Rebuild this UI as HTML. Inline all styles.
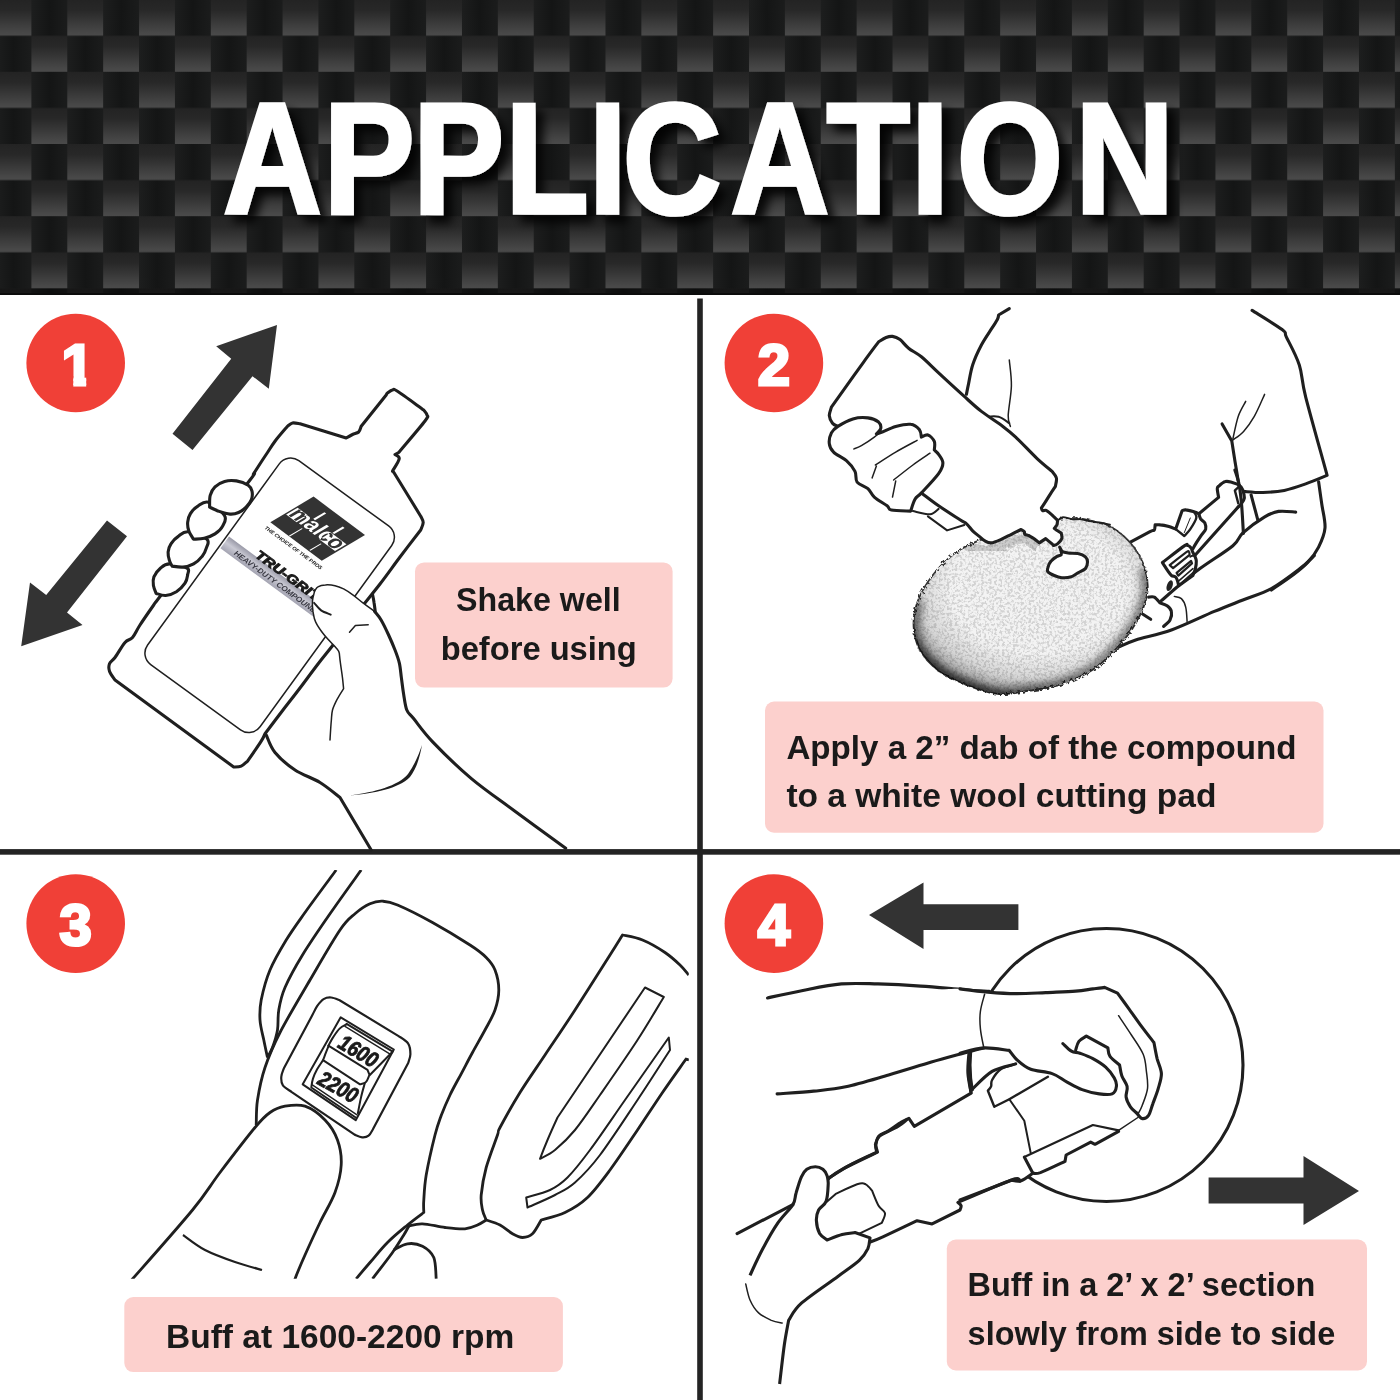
<!DOCTYPE html>
<html lang="en"><head><meta charset="utf-8"><title>Application</title>
<style>
html,body{margin:0;padding:0;background:#fff;}
svg{display:block;will-change:transform;}
text{font-family:"Liberation Sans",sans-serif;font-weight:bold;}
.ln{fill:none;stroke:#1f1f1f;stroke-width:3.1;stroke-linecap:round;stroke-linejoin:round;}
.lf{fill:#fff;stroke:#1f1f1f;stroke-width:3.1;stroke-linecap:round;stroke-linejoin:round;}
.th{fill:none;stroke:#1f1f1f;stroke-width:1.5;stroke-linecap:round;stroke-linejoin:round;}
.cap{fill:#1a1a1a;}
</style></head><body>
<svg width="1400" height="1400" viewBox="0 0 1400 1400">
<defs>
<linearGradient id="lg" x1="0" y1="0" x2="0" y2="1"><stop offset="0" stop-color="#232323"/><stop offset="0.3" stop-color="#282828"/><stop offset="0.9" stop-color="#474747"/><stop offset="1" stop-color="#4a4a4a"/></linearGradient>
<linearGradient id="dg" x1="0" y1="0" x2="1" y2="0"><stop offset="0" stop-color="#1d1e1e"/><stop offset="0.5" stop-color="#141515"/><stop offset="1" stop-color="#1b1c1c"/></linearGradient>
<pattern id="cf" x="31.4" y="-0.4" width="71.76" height="72.2" patternUnits="userSpaceOnUse">
<rect x="0" y="0" width="71.76" height="72.2" fill="#161717"/>
<rect x="0" y="0" width="35.88" height="36.1" fill="url(#dg)"/>
<rect x="35.88" y="36.1" width="35.88" height="36.1" fill="url(#dg)"/>
<rect x="35.88" y="0" width="35.88" height="36.1" fill="url(#lg)"/>
<rect x="0" y="36.1" width="35.88" height="36.1" fill="url(#lg)"/>
</pattern>
<filter id="ts" x="-5%" y="-20%" width="110%" height="150%"><feGaussianBlur in="SourceAlpha" stdDeviation="5.5 5"/><feOffset dx="9" dy="8"/><feComponentTransfer><feFuncA type="linear" slope="0.85"/></feComponentTransfer><feMerge><feMergeNode/><feMergeNode in="SourceGraphic"/></feMerge></filter>
</defs>
<rect width="1400" height="1400" fill="#fff"/>
<rect x="0" y="0" width="1400" height="295" fill="url(#cf)"/>
<rect x="0" y="288.4" width="1400" height="6.6" fill="#000" opacity="0.35"/>
<rect x="0" y="293" width="1400" height="2" fill="#0c0c0c"/>
<g transform="translate(221,213) scale(0.87,1)">
<text x="2.3 117.9 220.8 326.8 422.6 461.9 585.7 696.0 793.1 845.7 981.9" y="0" font-size="157" fill="#fff" stroke="#fff" stroke-width="3.6" stroke-linejoin="miter" filter="url(#ts)">APPLICATION</text>
</g>
<rect x="697.2" y="298.5" width="5.6" height="1102" fill="#232323"/>
<rect x="0" y="849.1" width="1400" height="5.6" fill="#232323"/>
<rect x="415.0" y="562.4" width="257.6" height="125.2" rx="9" fill="#fcd0cd"/>
<rect x="765.0" y="701.6" width="558.5" height="131.1" rx="9" fill="#fcd0cd"/>
<rect x="124.3" y="1297.1" width="438.6" height="75.0" rx="9" fill="#fcd0cd"/>
<rect x="946.8" y="1239.5" width="420.2" height="130.9" rx="9" fill="#fcd0cd"/>
<text class="cap" x="456.0" y="610.6" font-size="33.5" textLength="164.7" lengthAdjust="spacingAndGlyphs">Shake well</text>
<text class="cap" x="440.7" y="659.7" font-size="33.5" textLength="196.1" lengthAdjust="spacingAndGlyphs">before using</text>
<text class="cap" x="786.4" y="758.6" font-size="33.5" textLength="510.1" lengthAdjust="spacingAndGlyphs">Apply a 2” dab of the compound</text>
<text class="cap" x="786.4" y="807.0" font-size="33.5" textLength="430.0" lengthAdjust="spacingAndGlyphs">to a white wool cutting pad</text>
<text class="cap" x="166.0" y="1347.9" font-size="33.5" textLength="348.3" lengthAdjust="spacingAndGlyphs">Buff at 1600-2200 rpm</text>
<text class="cap" x="967.6" y="1295.5" font-size="33.5" textLength="347.8" lengthAdjust="spacingAndGlyphs">Buff in a 2’ x 2’ section</text>
<text class="cap" x="967.6" y="1344.9" font-size="33.5" textLength="367.6" lengthAdjust="spacingAndGlyphs">slowly from side to side</text>
<circle cx="75.7" cy="363.0" r="49.3" fill="#f04037"/>
<clipPath id="c1"><polygon points="50,335 100,335 100,376.2 86.2,376.2 86.2,392 73.3,392 73.3,376.2 50,376.2"/></clipPath>
<text x="77.7" y="384.5" font-size="58" text-anchor="middle" fill="#fff" stroke="#fff" stroke-width="3" stroke-linejoin="miter" clip-path="url(#c1)">1</text>
<circle cx="773.9" cy="363.0" r="49.3" fill="#f04037"/>
<text x="773.9" y="384.5" font-size="58" text-anchor="middle" fill="#fff" stroke="#fff" stroke-width="3" stroke-linejoin="miter">2</text>
<circle cx="75.7" cy="923.6" r="49.3" fill="#f04037"/>
<text x="75.7" y="945.1" font-size="58" text-anchor="middle" fill="#fff" stroke="#fff" stroke-width="3" stroke-linejoin="miter">3</text>
<circle cx="773.9" cy="923.6" r="49.3" fill="#f04037"/>
<text x="773.9" y="945.1" font-size="58" text-anchor="middle" fill="#fff" stroke="#fff" stroke-width="3" stroke-linejoin="miter">4</text>
<polygon fill="#333" points="277,325 216.2,346.2 231.2,358.8 172.5,433.8 192.5,450 252.5,376.2 268.8,388.8"/>
<polygon fill="#333" points="21.2,646.2 82.5,625 67,612.5 127,536.2 107,520.5 46.2,595 30,582.5"/>
<path class="lf" d="M423.7 410C424.2 410.8 426.8 413.2 427 415C427.2 416.8 429.7 414.8 425 421C420.3 427.2 403.1 447.2 398.7 452.5L395 454.5C395.7 455.2 399.6 455.9 399.2 458.7C398.8 461.5 393.6 469.1 392.5 471.2C393.1 472 391.5 468.7 396.2 476.2C400.9 483.7 416.6 509.5 420.7 516.2C421.1 517.2 423.2 520.2 423.2 522.5C423.2 524.8 421.1 528.8 420.7 530C417.2 534.5 406.8 548 400 557C393.2 566 387.2 574.7 380 584C372.8 593.3 364.5 603.2 357 613C349.5 622.8 341.5 634 335 642.5C328.5 651 323.8 656.4 318 664C312.2 671.6 305.8 680.3 300 688C294.2 695.7 288.8 702.4 283 710C277.2 717.6 268 729.8 265 733.7C264.4 735 264.1 736.6 261.2 741.2C258.3 745.8 249.8 757.9 247.5 761.2C246.4 762 243.5 765.2 241.2 766.2C238.9 767.2 234.9 766.9 233.7 767L115 680C114.1 678.5 110.4 673.9 109.5 671.2C108.6 668.5 108.6 666 109.5 663.7C110.4 661.4 112.4 661 115 657.5C117.6 654 122.1 645.8 125 642.5C127.9 639.2 130 640.4 132.5 637.5C135 634.6 136.5 630.4 140 625C143.5 619.6 150.2 610 153.7 605C157.2 600 153.5 605 161.2 595C168.9 585 185.2 564.2 200 545C214.8 525.8 241.1 491.9 250 480C258.9 468.1 251.6 477 253.7 473.7C255.8 470.4 260.2 463.5 262.5 460C264.8 456.5 265.4 455.6 267.5 452.5C269.6 449.4 271.7 445.6 275 441.2C278.3 436.8 285.4 428.7 287.5 426.2C288.3 425.7 290.4 423.4 292.5 423C294.6 422.6 298.8 423.6 300 423.7L346.2 438C347.2 437.4 350.4 435.5 352.5 434.5C354.6 433.5 357.2 433.4 358.7 432C360.1 430.6 360.8 427.2 361.2 426.2L386.2 395C386.4 394.7 386.4 393.8 387.5 393C388.6 392.2 390.8 390.3 392.5 390C394.2 389.7 392.3 388 397.5 391.3C402.7 394.6 419.3 406.9 423.7 410Z"/>
<rect class="th" style="fill:none" x="0" y="0" width="139" height="252" rx="14" transform="translate(287.5,452.5) rotate(36)"/>
<g transform="matrix(0.8006,0.5997,-0.860,0.5104,313.6,496.6)">
<rect x="0" y="0" width="64.2" height="50.3" fill="#333"/>
<rect x="1.5" y="20" width="13" height="13.3" fill="#fff"/><rect x="43" y="20" width="19.5" height="13.3" fill="#fff"/>
<defs><linearGradient id="mg" gradientUnits="userSpaceOnUse" x1="0" y1="0" x2="64.2" y2="0"><stop offset="0.226" stop-color="#333"/><stop offset="0.226" stop-color="#fff"/><stop offset="0.67" stop-color="#fff"/><stop offset="0.67" stop-color="#333"/></linearGradient></defs><text x="2.5" y="32.6" font-size="23" fill="url(#mg)" textLength="59" lengthAdjust="spacingAndGlyphs">malco</text>
<rect x="20.5" y="6.5" width="2.2" height="13" fill="#fff"/><rect x="44" y="7" width="2.2" height="12" fill="#fff"/>
<rect x="22.8" y="35" width="1.2" height="15" fill="#fff"/><rect x="47.4" y="36" width="1.2" height="13" fill="#fff"/>
</g>
<defs><linearGradient id="gb" x1="0" y1="0" x2="0" y2="1"><stop offset="0" stop-color="#9a9aa8"/><stop offset="0.45" stop-color="#c9c9d3"/><stop offset="1" stop-color="#a4a4b2"/></linearGradient></defs>
<g transform="translate(229,536.6) rotate(36.3)">
<rect x="0" y="0" width="118" height="14.5" fill="url(#gb)"/>
<text x="14" y="11.6" font-size="7.6" font-style="italic" fill="#3a3a44" textLength="100" lengthAdjust="spacingAndGlyphs">HEAVY-DUTY COMPOUND</text>
</g>
<g transform="translate(254.5,556.5) rotate(36.3)">
<text x="0" y="0" font-size="12.6" font-style="italic" fill="#1a1a1a" stroke="#1a1a1a" stroke-width="0.9" textLength="76" lengthAdjust="spacingAndGlyphs">TRU-GRIT</text>
</g>
<g transform="translate(264.2,528.6) rotate(36.2)">
<text x="0" y="0" font-size="5.2" font-style="italic" fill="#222" textLength="70" lengthAdjust="spacingAndGlyphs">THE CHOICE OF THE PROS</text>
</g>
<path class="lf" d="M156.1 593.4C157.7 593.8 162.3 595.8 165.7 595.5C169.1 595.3 173.2 593.8 176.4 591.8C179.6 589.7 183.1 586.1 185 583.2C186.9 580.4 187.3 577.1 187.7 574.6C188 572.1 190.2 570 187.1 568.2C184.1 566.4 173.9 563.9 169.5 563.9C165 563.9 162.9 566.1 160.4 568.2C157.8 570.4 155.1 573.9 153.9 576.8C152.8 579.6 153 582.6 153.4 585.4C153.8 588.1 155.6 592.1 156.1 593.4Z"/>
<path class="lf" d="M172.1 566.1C173.9 566.3 179.3 567.5 182.9 567.1C186.4 566.8 190.4 565.7 193.6 563.9C196.8 562.1 200 559.1 202.1 556.4C204.3 553.8 205.6 550.7 206.4 547.9C207.2 545 210 542 207 539.3C203.9 536.6 192.9 532.3 188.2 531.8C183.5 531.3 181.4 534.1 178.6 536.1C175.7 538 172.8 540.9 171.1 543.6C169.3 546.3 168.3 549.3 168.1 552.1C167.8 555 168.8 558.4 169.5 560.7C170.1 563 171.7 565.2 172.1 566.1Z"/>
<path class="lf" d="M193.6 539.3C195.4 539.1 200.7 539.1 204.3 538.2C207.9 537.3 212 535.9 215 533.9C218 532 220.9 529.5 222.5 526.4C224.1 523.4 227 519.7 224.6 515.7C222.3 511.7 213 503.9 208.6 502.3C204.1 500.7 200.9 504.2 197.9 506.1C194.8 507.9 192.1 510.9 190.4 513.6C188.7 516.3 187.9 519.3 187.7 522.1C187.4 525 187.8 527.9 188.8 530.7C189.7 533.6 192.8 537.9 193.6 539.3Z"/>
<path class="lf" d="M209.6 507.1C209.7 505.2 209.3 498.8 210.2 495.4C211.1 492 212.6 489.1 215 486.8C217.4 484.5 221.1 482.4 224.6 481.4C228.2 480.4 232.5 480.3 236.4 480.9C240.4 481.5 245.6 483.5 248.2 485.2C250.8 486.9 251.4 488.7 252 491.1C252.5 493.5 252.4 497 251.4 499.6C250.4 502.3 248.2 505 246.1 507.1C243.9 509.3 241.3 511.3 238.6 512.5C235.9 513.7 233.2 514.3 230 514.1C226.8 513.9 222.7 512.6 219.3 511.4C215.9 510.3 211.3 507.9 209.6 507.1Z"/>
<path fill="#fff" stroke="none" d="M314.6 591.1C315.5 588.8 316.1 587.8 317.9 586.8C319.6 585.8 322.5 585 325.4 584.9C328.2 584.7 332 585 335 585.7C338 586.4 340.7 587.5 343.6 588.9C346.4 590.4 348.9 592 352.1 594.3C355.4 596.6 359.1 600 362.9 602.9C366.6 605.7 371.6 608.6 374.6 611.4C377.7 614.3 378.8 616.1 381.1 620C383.4 623.9 386.3 630 388.6 635C390.9 640 393.2 645.4 395 650C396.8 654.6 398.2 658.2 399.3 662.9C400.4 667.5 400.7 672.7 401.4 677.9C402.1 683 402.7 688.6 403.6 693.9C404.5 699.3 418.9 707.3 406.8 710C394.6 712.7 342.3 711.8 330.7 710C319.1 708.2 335 702.9 337.1 699.3C339.3 695.7 342.7 692.1 343.6 688.6C344.5 685 343 682.1 342.5 677.9C342 673.6 340.9 667 340.4 662.9C339.8 658.8 339.8 655.5 339.3 653.2C338.8 650.9 339.6 652 337.1 648.9C334.6 645.9 327.9 639.5 324.3 635C320.7 630.5 317.6 626.1 315.7 622.1C313.8 618.2 313.6 615 313 611.4C312.5 607.9 312.2 604.1 312.5 600.7C312.8 597.3 313.8 593.4 314.6 591.1Z"/>
<path class="th" d="M314.6 591.1C315.2 590.4 316.1 587.8 317.9 586.8C319.6 585.8 322.5 585 325.4 584.9C328.2 584.7 332 585 335 585.7C338 586.4 340.7 587.5 343.6 588.9C346.4 590.4 348.9 592 352.1 594.3C355.4 596.6 359.1 600 362.9 602.9C366.6 605.7 372.7 610 374.6 611.4"/>
<path class="th" d="M314.6 591.1C314.3 592.7 312.8 597.3 312.5 600.7C312.2 604.1 312.5 607.9 313 611.4C313.6 615 313.8 618.2 315.7 622.1C317.6 626.1 320.7 630.5 324.3 635C327.9 639.5 334.6 645.9 337.1 648.9C339.6 652 338.9 652.5 339.3 653.2C339.5 654.8 339.8 658.8 340.4 662.9C340.9 667 342 673.6 342.5 677.9C343 682.1 343.4 686.8 343.6 688.6C342.5 690.4 339 695.7 337.1 699.3C335.3 702.9 333.5 706.4 332.5 710C331.6 713.6 331.7 715.7 331.3 720.7C330.8 725.7 330.2 736.8 330 740"/>
<path class="ln" style="stroke-width:2" d="M314.1 602.9C315.3 604.1 318.3 608.4 321.1 610.4C323.8 612.3 329.1 613.9 330.7 614.6"/>
<path class="th" d="M349.5 632.3L355.4 625.4L368.2 624.8"/>
<path class="ln" d="M372.5 594.3C372.8 595.7 373.7 600 374.1 602.9C374.6 605.7 375 610 375.2 611.4"/>
<path class="ln" d="M374.6 611.4C375.7 612.9 378.8 616.1 381.1 620C383.4 623.9 386.3 630 388.6 635C390.9 640 393.2 645.4 395 650C396.8 654.6 398.2 658.2 399.3 662.9C400.4 667.5 400.7 672.7 401.4 677.9C402.1 683 402.7 688.6 403.6 693.9C404.5 699.3 405.1 705.9 406.8 710C408.5 714.1 409.2 713.2 413.6 718.6C418 724 423.3 732.1 432.9 742.1C442.5 752.1 457.8 767.2 471.4 778.6C485 790 498.6 799.1 514.3 810.7C530 822.3 557.1 842 565.7 848.2"/>
<path class="ln" d="M266.2 735C267.7 737.9 270.2 746.7 275 752.5C279.8 758.3 287.5 765 295 770C302.5 775 312.5 777.9 320 782.5C327.5 787.1 336.7 795 340 797.5L371.2 850"/>
<path fill="#1f1f1f" stroke="none" d="M350 795.5 C375 792 398 786 408 774 C415 764 419 754 422 745 C420 756 417 768 410 777 C398 789 375 793 350 795.5Z"/>
<path class="ln"  d="M1009.3 308.6L998.6 315C998.4 315.7 998.6 317.1 997.5 319.3C996.4 321.4 994.8 323.6 992.1 327.9C989.5 332.1 984.6 338.9 981.4 345C978.2 351.1 975 357.9 972.9 364.3C970.7 370.7 969.6 378.6 968.6 383.6C967.5 388.6 966.8 392.5 966.4 394.3"/>
<path class="th"  d="M1009.3 360C1009.6 364.3 1011.6 376.4 1011.4 385.7C1011.2 395 1008.4 408.9 1008.2 415.7C1008 422.5 1010 424.6 1010.4 426.4"/>
<path class="ln" style="stroke-width:2" d="M985.7 416.8C987.9 416.8 994.6 415.7 998.6 416.8C1002.5 417.9 1007.5 422.1 1009.3 423.2"/>
<path class="ln"  d="M1252.1 310.4C1257.1 313.6 1276.4 325.2 1282.1 329.6C1287.9 334.1 1283.6 331.2 1286.4 337.1C1289.3 343 1296.1 355 1299.3 365C1302.5 375 1301.1 378.7 1305.7 397.1C1310.4 415.5 1323.6 462.3 1327.1 475.4C1323.6 476.8 1312.9 481.4 1305.7 483.9C1298.6 486.4 1291.4 488.9 1284.3 490.4C1277.1 491.8 1269.6 492.3 1262.9 492.5C1256.1 492.7 1246.8 491.6 1243.6 491.4"/>
<path class="ln"  d="M1318.6 481.8C1319.1 485.5 1320.7 496.6 1321.8 504.3C1322.9 512 1325.5 520.7 1325 527.9C1324.5 535 1321.4 541.4 1318.6 547.1C1315.7 552.9 1312.1 557.5 1307.9 562.1C1303.6 566.8 1298.9 570.4 1292.9 575C1286.8 579.6 1275 587.5 1271.4 590"/>
<path class="ln"  d="M1222.1 423.9L1231.8 441.1C1232.3 444.5 1233.9 454.8 1235 461.4C1236.1 468 1237.7 477.5 1238.2 480.7"/>
<path class="th"  d="M1245.7 401.4C1244.5 403.9 1240.4 410.2 1238.2 416.4C1236.1 422.7 1233.7 435.2 1232.9 438.9"/>
<path class="th"  d="M1264.6 394.4C1262.9 398 1257.8 410.2 1254.3 416.4C1250.8 422.6 1247.1 427.5 1243.6 431.4C1240 435.4 1234.6 438.6 1232.9 440"/>
<path class="ln"  d="M1118.6 647.1C1121.4 646 1126.9 642.9 1135.7 640C1144.5 637.1 1158.3 634.8 1171.4 630C1184.5 625.2 1202.4 616.4 1214.3 611.4C1226.2 606.4 1233.3 603.8 1242.9 600C1252.4 596.2 1261.9 593.8 1271.4 588.6C1281 583.3 1292.9 574 1300 568.6C1307.1 563.1 1311.9 557.9 1314.3 555.7"/>
<path class="ln"  d="M1295.7 512.1C1292.9 512 1283.8 510.6 1278.6 511.4C1273.3 512.3 1270.2 513.6 1264.3 517.1C1258.3 520.7 1248.1 528.1 1242.9 532.9C1237.6 537.6 1240 539.8 1232.9 545.7C1225.7 551.7 1209 561.9 1200 568.6C1191 575.2 1185 580.4 1178.6 585.7C1172.1 591.1 1164.3 598.2 1161.4 600.7"/>
<path class="ln"  d="M1100.3 559.1C1104.3 556.9 1116 550 1124.3 545.4C1132.6 540.9 1145 534.3 1150 531.7C1155 529.1 1153.4 531.1 1154.3 530C1155.1 528.9 1155 525.7 1155.1 524.9C1156 524.9 1158 524.6 1160.3 524.9C1162.6 525.1 1166.3 525.9 1168.9 526.6C1171.4 527.3 1174.6 528.7 1175.7 529.1L1182.1 510.7C1182.8 510.6 1183.9 509.6 1186 509.9C1188.1 510.1 1192.4 511.4 1194.6 512C1196.7 512.6 1198.1 513.4 1198.9 513.7L1218.6 497.4C1218.4 496 1217.3 490.7 1217.3 488.9C1217.3 487 1217.2 487.5 1218.6 486.3C1219.9 485.1 1223.1 482.2 1225.4 481.6C1227.7 480.9 1230 481.9 1232.3 482.4C1234.6 483 1237.4 483.8 1239.1 485C1240.9 486.2 1241.7 487.5 1242.6 489.7C1243.4 491.9 1244.6 495.9 1244.3 498.3C1244 500.7 1241.9 502.9 1240.9 504.3C1239.9 505.7 1238.7 506.4 1238.3 506.9"/>
<path class="ln" style="stroke-width:2.4" d="M1239.1 485C1239 485.4 1239 486.2 1238.3 487.1C1237.6 488.1 1235.4 490 1234.9 490.6L1238.3 503.4"/>
<path class="ln"  d="M1238.3 506.9L1194.6 555.7"/>
<path class="ln" style="stroke-width:2.4" d="M1175.7 529.1L1184.3 536C1185.3 534.9 1188.3 532.1 1190.3 529.1C1192.3 526.1 1195.6 520.7 1196.3 518C1197 515.3 1194.9 513.7 1194.6 512.9"/>
<path class="th" style="stroke-width:1" d="M1190.3 518L1184.3 532.6"/>
<path class="ln"  d="M1198.9 513.7C1199.1 514.6 1199.6 517.3 1200.6 518.9C1201.6 520.4 1204 521.4 1204.9 523.1C1205.7 524.9 1206.3 527.1 1205.7 529.1C1205.1 531.1 1203 532.9 1201.4 535.1C1199.9 537.4 1197.7 540.6 1196.3 542.9C1194.9 545.1 1193.4 547.9 1192.9 548.9"/>
<path class="lf" d="M1162.4 562.6C1166.1 559.8 1180.1 548.7 1184.3 545.9C1188.5 543 1186.6 545.1 1187.7 545.4C1188.9 545.8 1190.4 547 1191.1 548C1191.9 549 1191.9 550.1 1192.4 551.4C1193 552.7 1193.9 554.1 1194.6 555.7C1195.2 557.3 1196.1 558.7 1196.3 560.9C1196.4 563 1196 566.1 1195.4 568.6C1194.9 571 1193.3 574.3 1192.9 575.4L1178.7 585.7C1178.5 584.9 1177.9 582 1177.4 580.6C1176.9 579.1 1176.7 578 1175.7 577.1C1174.7 576.3 1172.7 576.4 1171.4 575.4C1170.1 574.4 1169.5 573.3 1168 571.1C1166.5 569 1163.4 564 1162.4 562.6Z"/>
<path class="ln" style="stroke-width:2.2" d="M1169.7 565.1C1172.4 563 1182.8 554.5 1186 552.3C1189.2 550.1 1188.4 551.4 1189 551.9C1189.6 552.3 1189.5 554.4 1189.6 554.9L1173.1 568.1L1169.7 565.1"/>
<path class="ln" style="stroke-width:2.2" d="M1176.6 572.9L1191.1 560.9L1192 563.4L1178.3 575.6L1176.6 572.9"/>
<path class="th"  d="M1179.1 580.6L1192.9 568.6"/>
<path class="th"  d="M1180 584L1193.3 572.4"/>
<path class="ln" style="stroke-width:2" d="M1190.3 556.6C1190.6 556.4 1191.7 555.9 1192.4 555.7C1193.1 555.6 1194.2 555.7 1194.6 555.7"/>
<ellipse cx="1169.7" cy="585.7" rx="2.8" ry="5.6" fill="#222" transform="rotate(20 1169.7 585.7)"/>
<path class="ln"  d="M1234.9 470C1235.6 472.4 1238 478.6 1239.1 484.6C1240.3 490.6 1241 497.9 1241.7 506C1242.4 514.1 1243.1 528.9 1243.4 533.4"/>
<path class="ln"  d="M1251.1 494.9L1258 520.6"/>
<path class="ln"  d="M1148.6 597.1C1149.5 597.1 1152.4 596.2 1154.3 597.1C1156.2 598.1 1159 601.9 1160 602.9C1161.2 603.3 1165.2 604.3 1167.1 605.7C1169 607.1 1171 609 1171.4 611.4C1171.9 613.8 1171.3 617.5 1170 620C1168.7 622.5 1164.6 625.4 1163.6 626.4"/>
<path class="th"  d="M1174.3 596.4C1175.5 596.8 1179.5 596.8 1181.4 598.6C1183.3 600.4 1184.8 603.3 1185.7 607.1C1186.7 611 1186.9 619 1187.1 621.4"/>
<path class="ln"  d="M1142.9 614.3L1150.7 619.3"/>
<defs>
<filter id="wool" x="-5%" y="-5%" width="110%" height="110%"><feTurbulence type="fractalNoise" baseFrequency="0.38" numOctaves="3" seed="7" result="n"/><feColorMatrix in="n" type="matrix" values="0 0 0 0 0.3  0 0 0 0 0.3  0 0 0 0 0.3  0 -5 0 0 2.75" result="sp"/><feComposite in="sp" in2="SourceGraphic" operator="in"/></filter>
<filter id="fuzz" x="-5%" y="-5%" width="110%" height="110%"><feTurbulence type="fractalNoise" baseFrequency="0.3" numOctaves="2" seed="3" result="n"/><feDisplacementMap in="SourceGraphic" in2="n" scale="5"/></filter>
<radialGradient id="padg" cx="0.53" cy="0.40" r="0.62"><stop offset="0.6" stop-color="#000" stop-opacity="0"/><stop offset="0.82" stop-color="#000" stop-opacity="0.12"/><stop offset="0.93" stop-color="#000" stop-opacity="0.3"/><stop offset="1" stop-color="#000" stop-opacity="0.6"/></radialGradient>
<clipPath id="padc"><path d="M975.7 541.8C966.8 545.4 961.4 548 954.3 553.6C947.1 559.1 938.9 567.1 932.9 575C926.8 582.9 921.1 592.1 917.9 600.7C914.6 609.3 913.2 618.2 913.6 626.4C913.9 634.6 915.7 642.5 920 650C924.3 657.5 931.8 665.7 939.3 671.4C946.8 677.1 955.4 680.5 965 684.3C974.6 688 986.4 692.9 997.1 693.9C1007.9 695 1018.6 692.3 1029.3 690.7C1040 689.1 1050.7 687.9 1061.4 684.3C1072.1 680.7 1084.3 675.4 1093.6 669.3C1102.9 663.2 1110 655.7 1117.1 647.9C1124.3 640 1131.4 631.1 1136.4 622.1C1141.4 613.2 1145.7 603.2 1147.1 594.3C1148.6 585.4 1147.5 576.8 1145 568.6C1142.5 560.4 1137.5 551.8 1132.1 545C1126.8 538.2 1119.3 531.8 1112.9 527.9C1106.4 523.9 1099.6 523 1093.6 521.4C1087.5 519.8 1082.1 518.6 1076.4 518.2C1070.7 517.8 1065.4 517.6 1059.3 518.9C1053.2 520.1 1048.6 523.5 1040 525.7C1031.4 527.9 1018.6 529.5 1007.9 532.1C997.1 534.8 984.6 538.2 975.7 541.8Z"/></clipPath>
</defs>
<path d="M975.7 541.8C966.8 545.4 961.4 548 954.3 553.6C947.1 559.1 938.9 567.1 932.9 575C926.8 582.9 921.1 592.1 917.9 600.7C914.6 609.3 913.2 618.2 913.6 626.4C913.9 634.6 915.7 642.5 920 650C924.3 657.5 931.8 665.7 939.3 671.4C946.8 677.1 955.4 680.5 965 684.3C974.6 688 986.4 692.9 997.1 693.9C1007.9 695 1018.6 692.3 1029.3 690.7C1040 689.1 1050.7 687.9 1061.4 684.3C1072.1 680.7 1084.3 675.4 1093.6 669.3C1102.9 663.2 1110 655.7 1117.1 647.9C1124.3 640 1131.4 631.1 1136.4 622.1C1141.4 613.2 1145.7 603.2 1147.1 594.3C1148.6 585.4 1147.5 576.8 1145 568.6C1142.5 560.4 1137.5 551.8 1132.1 545C1126.8 538.2 1119.3 531.8 1112.9 527.9C1106.4 523.9 1099.6 523 1093.6 521.4C1087.5 519.8 1082.1 518.6 1076.4 518.2C1070.7 517.8 1065.4 517.6 1059.3 518.9C1053.2 520.1 1048.6 523.5 1040 525.7C1031.4 527.9 1018.6 529.5 1007.9 532.1C997.1 534.8 984.6 538.2 975.7 541.8Z" fill="#f3f3f3" stroke="#333" stroke-width="1.8" filter="url(#fuzz)"/>
<path d="M975.7 541.8C966.8 545.4 961.4 548 954.3 553.6C947.1 559.1 938.9 567.1 932.9 575C926.8 582.9 921.1 592.1 917.9 600.7C914.6 609.3 913.2 618.2 913.6 626.4C913.9 634.6 915.7 642.5 920 650C924.3 657.5 931.8 665.7 939.3 671.4C946.8 677.1 955.4 680.5 965 684.3C974.6 688 986.4 692.9 997.1 693.9C1007.9 695 1018.6 692.3 1029.3 690.7C1040 689.1 1050.7 687.9 1061.4 684.3C1072.1 680.7 1084.3 675.4 1093.6 669.3C1102.9 663.2 1110 655.7 1117.1 647.9C1124.3 640 1131.4 631.1 1136.4 622.1C1141.4 613.2 1145.7 603.2 1147.1 594.3C1148.6 585.4 1147.5 576.8 1145 568.6C1142.5 560.4 1137.5 551.8 1132.1 545C1126.8 538.2 1119.3 531.8 1112.9 527.9C1106.4 523.9 1099.6 523 1093.6 521.4C1087.5 519.8 1082.1 518.6 1076.4 518.2C1070.7 517.8 1065.4 517.6 1059.3 518.9C1053.2 520.1 1048.6 523.5 1040 525.7C1031.4 527.9 1018.6 529.5 1007.9 532.1C997.1 534.8 984.6 538.2 975.7 541.8Z" fill="#000" filter="url(#wool)" opacity="0.34"/>
<path d="M975.7 541.8C966.8 545.4 961.4 548 954.3 553.6C947.1 559.1 938.9 567.1 932.9 575C926.8 582.9 921.1 592.1 917.9 600.7C914.6 609.3 913.2 618.2 913.6 626.4C913.9 634.6 915.7 642.5 920 650C924.3 657.5 931.8 665.7 939.3 671.4C946.8 677.1 955.4 680.5 965 684.3C974.6 688 986.4 692.9 997.1 693.9C1007.9 695 1018.6 692.3 1029.3 690.7C1040 689.1 1050.7 687.9 1061.4 684.3C1072.1 680.7 1084.3 675.4 1093.6 669.3C1102.9 663.2 1110 655.7 1117.1 647.9C1124.3 640 1131.4 631.1 1136.4 622.1C1141.4 613.2 1145.7 603.2 1147.1 594.3C1148.6 585.4 1147.5 576.8 1145 568.6C1142.5 560.4 1137.5 551.8 1132.1 545C1126.8 538.2 1119.3 531.8 1112.9 527.9C1106.4 523.9 1099.6 523 1093.6 521.4C1087.5 519.8 1082.1 518.6 1076.4 518.2C1070.7 517.8 1065.4 517.6 1059.3 518.9C1053.2 520.1 1048.6 523.5 1040 525.7C1031.4 527.9 1018.6 529.5 1007.9 532.1C997.1 534.8 984.6 538.2 975.7 541.8Z" fill="url(#padg)" filter="url(#fuzz)"/>
<filter id="bl4" x="-10%%" y="-10%%" width="120%%" height="120%%"><feGaussianBlur stdDeviation="3.5"/></filter>
<g clip-path="url(#padc)"><path d="M917.9 600.7C917.1 605 913.2 618.2 913.6 626.4C913.9 634.6 915.7 642.5 920 650C924.3 657.5 931.8 665.7 939.3 671.4C946.8 677.1 955.4 680.5 965 684.3C974.6 688 986.4 692.9 997.1 693.9C1007.9 695 1018.6 692.3 1029.3 690.7C1040 689.1 1050.7 687.9 1061.4 684.3C1072.1 680.7 1084.3 675.4 1093.6 669.3C1102.9 663.2 1110 655.7 1117.1 647.9C1124.3 640 1131.4 631.1 1136.4 622.1C1141.4 613.2 1145.7 603.2 1147.1 594.3C1148.6 585.4 1145.4 572.9 1145 568.6" fill="none" stroke="#000" stroke-opacity="0.42" stroke-width="13" filter="url(#bl4)"/></g>
<g clip-path="url(#padc)"><path d="M960 536.4C961.1 537.9 963.2 542.8 966.4 545C969.6 547.2 975 549.1 979.3 549.8C983.6 550.5 987.3 550.4 992.1 549.3C997 548.1 1002.9 544.6 1008.2 542.9C1013.6 541.1 1019.5 537.9 1024.3 538.6C1029.1 539.3 1035 545.7 1037.1 547.1" fill="none" stroke="#000" stroke-opacity="0.16" stroke-width="10" filter="url(#fuzz)"/></g>
<path class="lf" d="M1061.8 551.4C1063 552.1 1065.5 552.7 1068.2 553C1070.9 553.4 1075 552.9 1077.9 553.6C1080.7 554.2 1083.8 555.4 1085.4 556.8C1087 558.2 1087.5 560.2 1087.5 562.1C1087.5 564.1 1087 566.8 1085.4 568.6C1083.8 570.4 1080.4 571.4 1077.9 572.9C1075.4 574.3 1073 576.3 1070.4 577.1C1067.7 577.9 1064.5 577.9 1061.8 577.7C1059.1 577.4 1056.6 576.5 1054.3 575.5C1052 574.6 1048.9 573.1 1047.9 571.8C1046.8 570.4 1047.3 569.3 1047.9 567.5C1048.4 565.7 1049.6 562.9 1051.1 561.1C1052.5 559.3 1054.7 557.9 1056.4 556.8C1058.1 555.7 1060.5 555.9 1061.3 554.6C1062 553.4 1060.6 549.8 1060.7 549.3C1060.8 548.8 1060.5 550.8 1061.8 551.4Z"/>
<path class="ln"  d="M1059.6 547.1L1061.8 551.4"/>
<path class="ln" style="stroke-width:1.8" d="M1058 520.4C1058.8 519.8 1060.4 517.3 1062.9 517.1C1065.3 517 1069.5 518.9 1072.5 519.3C1075.5 519.6 1078.4 519 1081.1 519.3C1083.8 519.6 1085.5 520.4 1088.6 520.9C1091.6 521.4 1095.7 521.9 1099.3 522.5C1102.9 523.1 1108.2 524.3 1110 524.6"/>
<path class="lf" d="M1052.1 471.4C1052.9 472.5 1055.9 475.4 1056.4 477.9C1057 480.4 1055.5 485 1055.4 486.4C1054.5 487.8 1051.8 491.8 1050 494.6C1048.2 497.4 1046.1 501 1044.6 503.2C1043.2 505.4 1042 507.2 1041.4 508C1041.6 508.5 1041.8 510.4 1042.5 510.7C1043.2 511.1 1044.7 510 1045.7 510.2C1046.7 510.4 1047.9 511.5 1048.4 511.8C1049.2 512.5 1051.7 514.6 1053.2 516.1C1054.7 517.5 1056.8 519.6 1057.5 520.4C1057.4 521.1 1057.5 523.3 1057 524.6C1056.4 526 1054.7 527.8 1054.3 528.4C1054.6 528.7 1055.3 529.2 1056.4 530C1057.6 530.8 1060.4 532.7 1061.3 533.2C1061.3 534.1 1062.4 536.8 1061.8 538.6C1061.2 540.4 1058.9 542.8 1057.5 543.9C1056.1 545.1 1053.9 545.3 1053.2 545.5C1053 545.3 1053.4 545.1 1052.1 543.9C1050.9 542.8 1046.8 539.5 1045.7 538.6L1039.3 542.9C1038.4 542.1 1035.7 539.8 1033.9 538.6C1032.1 537.3 1029.5 535.9 1028.6 535.4C1027.9 535.2 1025.5 534.9 1024.8 534.3C1024.1 533.7 1024.9 532.4 1024.3 531.6C1023.7 530.8 1021.6 529.8 1021.1 529.5C1019.5 530.3 1014.8 532.6 1011.4 534.3C1008 536 1004.1 538.2 1000.7 539.6C997.3 541.1 993.8 542.7 991.1 542.9C988.4 543 986.6 541.8 984.6 540.7C982.7 539.6 981.3 538 979.3 536.4C977.3 534.8 975 533.2 972.9 531.1C970.7 528.9 968.6 525.4 966.4 523.6C964.3 521.7 964.6 522.8 960 519.8C955.4 516.8 945 510.2 938.6 505.7C932.1 501.2 924.3 495 921.4 492.9L837.9 426.4C837 425.9 833.9 425 832.5 423.2C831.1 421.4 829.5 418.4 829.3 415.7C829.1 413 831.1 408.6 831.4 407.1C833.2 404.6 836.8 399.6 842.1 392.1C847.5 384.6 857.5 370.5 863.6 362.1C869.6 353.7 876.1 345.2 878.6 341.8C879.8 341.1 883.7 338.4 886.1 337.5C888.4 336.6 890.2 336.1 892.5 336.4C894.8 336.8 897.3 337.7 900 339.6C902.7 341.6 905 345.4 908.6 348.2C912.1 351.1 916.4 352.7 921.4 356.8C926.4 360.9 931.4 366.2 938.6 372.9C945.7 379.5 957.1 390 964.3 396.4C971.4 402.9 975 406.4 981.4 411.4C987.9 416.4 997.1 422.1 1002.9 426.4C1008.6 430.7 1010 431.8 1015.7 437.1C1021.4 442.5 1031.1 452.9 1037.1 458.6C1043.2 464.3 1049.6 469.3 1052.1 471.4Z"/>
<path class="ln" style="stroke-width:2" d="M912.9 511.1C915.7 511.6 925.7 514.6 930 514.3C934.3 513.9 937.1 509.8 938.6 508.9"/>
<path class="ln" style="stroke-width:2" d="M927.9 516.4L947.1 530.4L964.3 525"/>
<path class="lf" d="M876.4 433.9C877.5 433.6 879.6 433 882.9 431.8C886.1 430.5 891.1 427.7 895.7 426.4C900.4 425.2 906.8 423.7 910.7 424.3C914.6 424.8 917.5 427.5 919.3 429.6C921.1 431.8 921.1 435.9 921.4 437.1C922.5 436.8 925.7 434.3 927.9 435C930 435.7 933.2 438.9 934.3 441.4C935.4 443.9 934.3 448.6 934.3 450C935 450.7 937.1 452.1 938.6 454.3C940 456.4 942.9 459.6 942.9 462.9C942.9 466.1 942.1 468.6 938.6 473.6C935 478.6 925.4 488.6 921.4 492.9C917.5 497.1 916.8 496.2 915 499.3C913.2 502.3 911.4 509.1 910.7 511.1C907.5 510.9 895.4 510.9 891.4 510C887.5 509.1 890 507.9 887.1 505.7C884.3 503.6 877.5 500 874.3 497.1C871.1 494.3 870.7 491.1 867.9 488.6C865 486.1 859.3 485 857.1 482.1C855 479.3 856.8 475 855 471.4C853.2 467.9 850 463.9 846.4 460.7C842.9 457.5 836.4 455 833.6 452.1C830.7 449.3 829.6 446.8 829.3 443.6C828.9 440.4 830 435.7 831.4 432.9C832.9 430 834.3 428.7 837.9 426.4C841.4 424.1 847.9 420.4 852.9 418.9C857.9 417.5 863.6 417.3 867.9 417.9C872.1 418.4 876.4 420.4 878.6 422.1C880.7 423.9 881.1 426.6 880.7 428.6C880.4 430.5 877.1 433 876.4 433.9Z"/>
<path class="th"  d="M853.9 448.9C855.2 448.4 858 447.7 861.4 445.7C864.8 443.7 871.1 439.5 874.3 437.1C877.5 434.8 879.6 432.7 880.7 431.8"/>
<path class="th"  d="M875.4 465C878.7 462.9 888.7 456.2 895.7 452.1C902.7 448 913.6 442.3 917.1 440.4"/>
<path class="th"  d="M872.1 477.9L876.4 466.1"/>
<path class="th"  d="M893.6 480C896.8 477.5 906.8 469.5 912.9 465C918.9 460.5 927.1 455.2 930 453.2"/>
<path class="th"  d="M892.5 497.1L895.7 481.1"/>
<style>.l3{fill:none;stroke:#1f1f1f;stroke-width:2.8;stroke-linecap:butt;stroke-linejoin:round;}.l3f{fill:#fff;stroke:#1f1f1f;stroke-width:2.8;stroke-linejoin:round;}.s3{fill:none;stroke:#1f1f1f;stroke-width:2;stroke-linejoin:round;stroke-linecap:round}</style>
<clipPath id="c3"><rect x="0" y="870" width="688.8" height="408.8"/></clipPath><g clip-path="url(#c3)">
<path class="l3"  d="M336.2 870C331 877.1 313.3 900.8 305 912.5C296.7 924.2 292.1 930.4 286.2 940C280.4 949.6 274.2 960 270 970C265.8 980 262.9 991.7 261.2 1000C259.6 1008.3 259.6 1013.3 260 1020C260.4 1026.7 262.5 1033.8 263.8 1040C265 1046.2 266.9 1054.6 267.5 1057.5"/>
<path class="l3"  d="M361.2 870C356 877.3 339.8 899.6 330 913.8C320.2 927.9 310 942.7 302.5 955C295 967.3 289 978.3 285 987.5C281 996.7 280 1002.9 278.8 1010C277.5 1017.1 278.5 1023.8 277.5 1030C276.5 1036.2 274.2 1042.9 272.5 1047.5C270.8 1052.1 268.3 1055.8 267.5 1057.5"/>
<path class="l3" d="M256.2 1125C256.5 1120.8 256 1109.6 257.5 1100C259 1090.4 261.2 1078.8 265 1067.5C268.8 1056.2 272.5 1047.1 280 1032.5C287.5 1017.9 300 997.1 310 980C320 962.9 332.5 941 340 930C347.5 919 350 918.1 355 913.8C360 909.4 365.4 905.8 370 903.8C374.6 901.7 377.9 901 382.5 901.2C387.1 901.5 389.2 901.5 397.5 905C405.8 908.5 420.4 915.8 432.5 922.5C444.6 929.2 461 939.2 470 945C479 950.8 482.1 953.3 486.2 957.5C490.4 961.7 492.9 964.6 495 970C497.1 975.4 498.8 983.3 498.8 990C498.8 996.7 497.3 1003.3 495 1010C492.7 1016.7 488.8 1022.9 485 1030C481.2 1037.1 476.5 1045.2 472.5 1052.5C468.5 1059.8 465 1066.7 461.2 1073.8C457.5 1080.8 453.3 1088 450 1095C446.7 1102 443.8 1108.8 441.2 1115.5C438.8 1122.2 437.5 1125.1 435 1135C432.5 1144.9 428.1 1164.2 426.2 1175C424.4 1185.8 424.2 1193.8 423.8 1200C423.3 1206.2 423.8 1210.4 423.8 1212.5C421 1214.6 413.5 1220 407.5 1225C401.5 1230 393.8 1236.2 387.5 1242.5C381.2 1248.8 375.2 1256.5 370 1262.5C364.8 1268.5 358.5 1276 356.2 1278.8"/>
<path class="l3"  d="M407.5 1226.2C410 1225.8 416.2 1223.5 422.5 1223.8C428.8 1224 437.9 1226.7 445 1227.5C452.1 1228.3 459.6 1229.2 465 1228.8C470.4 1228.3 474 1226.5 477.5 1225C481 1223.5 484.8 1220.8 486.2 1220"/>
<path class="l3"  d="M372.5 1278.8C375.8 1274.4 387.3 1259.8 392.5 1252.5C397.7 1245.2 401 1239.4 403.8 1235C406.5 1230.6 407.9 1227.7 408.8 1226.2"/>
<path class="l3"  d="M393.8 1250C396 1249 402.7 1244.4 407.5 1243.8C412.3 1243.1 418.1 1244 422.5 1246.2C426.9 1248.5 431.5 1252.1 433.8 1257.5C436 1262.9 435.8 1275.2 436.2 1278.8"/>
<path class="l3" d="M688.8 975C687.3 973.3 684 968.8 680 965C676 961.2 671.2 956.7 665 952.5C658.8 948.3 649.6 942.9 642.5 940C635.4 937.1 625.8 935.8 622.5 935C620.4 938.3 617.9 942.5 610 955C602.1 967.5 585.8 993.3 575 1010C564.2 1026.7 554.2 1041.2 545 1055C535.8 1068.8 527.5 1080.4 520 1092.5C512.5 1104.6 503.8 1120.4 500 1127.5C496.2 1134.6 499.8 1128.3 497.5 1135C495.2 1141.7 489 1157.5 486.2 1167.5C483.5 1177.5 481.9 1187.9 481.2 1195C480.6 1202.1 481.7 1205.8 482.5 1210C483.3 1214.2 485.6 1218.3 486.2 1220C488.5 1220.8 495.6 1222.7 500 1225C504.4 1227.3 508.8 1231.7 512.5 1233.8C516.2 1235.8 519.2 1237.5 522.5 1237.5C525.8 1237.5 529.4 1236.7 532.5 1233.8C535.6 1230.8 539.8 1222.3 541.2 1220C545.2 1218.8 557.3 1216.2 565 1212.5C572.7 1208.8 580 1204.6 587.5 1197.5C595 1190.4 601.7 1181.2 610 1170C618.3 1158.8 628.8 1142.9 637.5 1130C646.2 1117.1 654.4 1104.4 662.5 1092.5C670.6 1080.6 682.3 1064.4 686.2 1058.8"/>
<path class="l3"  d="M685 1058.8L689 1060"/>
<path class="s3" d="M645 987.5L663.8 997C659.4 1004.2 648.1 1023.7 637.5 1040C626.9 1056.3 610.4 1080 600 1095C589.6 1110 582.5 1120.8 575 1130C567.5 1139.2 560.8 1145.2 555 1150C549.2 1154.8 542.5 1157.3 540 1158.8C541.2 1155.6 544.6 1146.9 547.5 1140C550.4 1133.1 555.8 1121.2 557.5 1117.5L645 987.5Z"/>
<path class="s3" d="M668.8 1037.5L670 1050C664.6 1058.3 649.2 1082.5 637.5 1100C625.8 1117.5 610.4 1141.2 600 1155C589.6 1168.8 582.5 1175.8 575 1182.5C567.5 1189.2 562.9 1190.8 555 1195C547.1 1199.2 532.1 1205.4 527.5 1207.5L526.2 1197.5C530.2 1196.2 543.1 1193.3 550 1190C556.9 1186.7 560.8 1184.2 567.5 1177.5C574.2 1170.8 580.4 1162.9 590 1150C599.6 1137.1 611.9 1118.8 625 1100C638.1 1081.2 661.5 1047.9 668.8 1037.5Z"/>
<path class="l3f" style="stroke-width:2.2" d="M312.9 1014.1C313.6 1012.8 315.4 1008.6 317.1 1006.1C318.9 1003.6 321.3 1000.5 323.6 999.1C325.9 997.7 328.4 997.3 331.1 997.5C333.8 997.7 338.2 999.7 339.6 1000.2L398.6 1036.1C400.2 1037.3 406.3 1040.5 408.2 1043.6C410.2 1046.6 410.4 1051.1 410.4 1054.3C410.4 1057.5 408.6 1061.4 408.2 1062.9L372.9 1129.3C372.1 1130.4 370.4 1134.4 368.6 1135.7C366.8 1137.1 364.5 1137.5 362.1 1137.3C359.8 1137.1 355.9 1135.1 354.6 1134.6L291.4 1091.8C290 1090.7 284.6 1087.9 282.9 1085.4C281.2 1082.9 281.1 1079.6 281.3 1076.8C281.4 1073.9 283.5 1069.6 283.9 1068.2L312.9 1014.1Z"/>
<path class="s3" d="M340.7 1017.3L393.8 1049.5L355.7 1120.2L302.7 1084.3L340.7 1017.3Z"/>
<path class="s3"  d="M346.6 1023.8L392.7 1051.6"/>
<path class="s3" style="stroke-width:1.4" d="M345 1026.4L390.5 1054.3"/>
<path class="s3"  d="M346.6 1024.3C345.4 1025 341.9 1026.4 339.6 1028.6C337.4 1030.7 335.1 1034.3 333.2 1037.1C331.3 1040 329.2 1044.3 328.4 1045.7"/>
<path class="s3"  d="M328.4 1045.7L367.5 1069.8L369.6 1075.2L391.6 1052.7"/>
<path class="s3"  d="M328.4 1046.3C327.9 1047.4 326.6 1050.9 325.7 1053.2C324.8 1055.5 323.5 1059 323 1060.2L360 1084.3C361 1083.9 364.4 1083.6 365.9 1082.1C367.4 1080.7 368.6 1076.8 369.1 1075.7"/>
<path class="s3"  d="M323 1060.2C322.1 1061.7 318.8 1066.2 317.1 1069.3C315.4 1072.4 313.8 1075.9 312.9 1078.9C311.9 1082 311.5 1086.1 311.3 1087.5L355.7 1117.5"/>
<path class="s3" style="stroke-width:1.4" d="M312.3 1084.8L357 1114.8"/>
<path class="s3"  d="M364.8 1083.2C364.2 1085.5 362.2 1092.1 361.1 1097.1C359.9 1102.1 358.4 1110.5 357.9 1113.2"/>
<text transform="translate(336.6,1046.8) rotate(31)" font-size="22" font-style="italic" fill="#1a1a1a" stroke="#1a1a1a" stroke-width="0.8" textLength="42" lengthAdjust="spacingAndGlyphs">1600</text>
<text transform="translate(316.3,1083.4) rotate(29)" font-size="22" font-style="italic" fill="#1a1a1a" stroke="#1a1a1a" stroke-width="0.8" textLength="42" lengthAdjust="spacingAndGlyphs">2200</text>
<path class="l3f" d="M122.5 1290C124.2 1288.2 120.8 1292.3 132.5 1279C144.2 1265.7 177.9 1227.8 192.5 1210C207.1 1192.2 209.6 1186.2 220 1172.5C230.4 1158.8 246.7 1137.5 255 1127.5C263.3 1117.5 265 1116 270 1112.5C275 1109 279.2 1107.3 285 1106.2C290.8 1105.2 298.3 1104 305 1106.2C311.7 1108.5 319.6 1114.4 325 1120C330.4 1125.6 334.8 1132.5 337.5 1140C340.2 1147.5 341.7 1156.2 341.2 1165C340.8 1173.8 338.5 1182.9 335 1192.5C331.5 1202.1 325 1212.1 320 1222.5C315 1232.9 309.2 1245.6 305 1255C300.8 1264.4 297.1 1273.2 295 1279C292.9 1284.8 292.9 1288.2 292.5 1290L122.5 1290Z"/>
<path class="l3" style="display:none" d="M485 2070C494.2 2075 520.8 2091.7 540 2100C559.2 2108.3 583.3 2115.3 600 2120C616.7 2124.7 633.3 2126.7 640 2128"/>
</g>
<path class="l3" style="stroke-width:2.2" d="M183 1235C186.7 1237.5 196.3 1245.5 205 1250C213.7 1254.5 225.5 1258.7 235 1262C244.5 1265.3 257.5 1268.7 262 1270"/>
<polygon fill="#333" points="869,915 923.5,882.5 923.5,904.3 1018.4,904.3 1018.4,930 923.5,930 923.5,949"/>
<polygon fill="#333" points="1359,1191 1303.5,1156 1303.5,1177.5 1208.6,1177.5 1208.6,1203.5 1303.5,1203.5 1303.5,1225"/>
<circle class="ln" cx="1106.5" cy="1065" r="136.5"/>
<path fill="#fff" stroke="none" d="M971.1 1092.6C974.8 1089.5 986.1 1078.9 993.6 1073.9C1001.1 1069 1007.1 1062.2 1016.1 1062.8C1025 1063.3 1039.8 1064.4 1047.1 1077.1C1054.5 1089.9 1057.9 1128.9 1060 1139.3L1030 1154.3L1060 1139.3L1060 1163.9C1056.8 1165.4 1045.2 1170.9 1040.7 1172.5C1036.2 1174.1 1034.5 1173.4 1033.2 1173.6C1031.1 1174.6 1024.1 1178.9 1020.4 1180C1016.6 1181.1 1012.3 1180 1010.7 1180L959.3 1201.4L961.4 1207.9L933.6 1223.9L916.4 1219.6C911.8 1222 896.1 1230.2 888.6 1233.6C881.1 1237 881.4 1239.3 871.4 1240C861.4 1240.7 837.1 1239.3 828.6 1237.9C820 1236.4 822 1234.3 820 1231.4C818 1228.6 817.1 1224.3 816.8 1220.7C816.4 1217.1 816.2 1213.2 817.9 1210C819.5 1206.8 824.6 1205.4 826.4 1201.4C828.2 1197.5 828.2 1188.9 828.6 1186.4C828.9 1184.8 826.8 1180.5 830.7 1176.8C834.6 1173 844.5 1168 852.1 1163.9C859.8 1159.8 872.7 1154.1 876.8 1152.1C876.6 1151.1 875.4 1148.4 875.7 1145.7C876.1 1143 876.8 1138.6 878.9 1136.1C881.1 1133.6 884.8 1133 888.6 1130.7C892.3 1128.4 898 1124.2 901.4 1122.1C904.8 1120.1 907.7 1118.9 908.9 1118.3L914.3 1126.4L971.1 1092.6Z"/>
<path fill="#fff" stroke="none" d="M987.9 1090.7L994.3 1106.8L1009.3 1099.3L1024.3 1120.7L1030.7 1152.9L1024.3 1157.1L1032.9 1173.2L1040.4 1172.6L1065 1161.4L1066.1 1155L1090.7 1142.1L1095 1144.3L1118.6 1131.4L1137.9 1117.5L1110 1050L1015.7 1063.9L987.9 1090.7Z"/>
<path class="ln"  d="M767.5 997.9C773.4 996.6 790.5 992.7 802.9 990.4C815.2 988 828.9 985 841.4 983.9C853.9 982.9 864.6 983.6 877.9 983.9C891.1 984.3 906.4 985.1 920.7 986.1C935 987 952.1 988.8 963.6 989.7C975 990.6 985 991.1 989.3 991.4"/>
<path class="ln"  d="M777.1 1093.9C783.2 1093.4 802.1 1092.2 813.6 1091.1C825 1089.9 833.2 1089.5 845.7 1086.8C858.2 1084.1 874.3 1079.1 888.6 1075C902.9 1070.9 917.9 1066.1 931.4 1062.1C945 1058.2 961.1 1053.9 970 1051.4C978.9 1049 982.5 1048.2 985 1047.6"/>
<path class="ln"  d="M968.9 1053.6C968.7 1056.8 967.5 1066.4 967.9 1072.9C968.2 1079.4 970.5 1089.3 971.1 1092.6"/>
<path class="ln"  d="M971.1 1093.2L914.3 1126.4L908.9 1118.3C907.7 1118.9 904.8 1120.1 901.4 1122.1C898 1124.2 892.3 1128.4 888.6 1130.7C884.8 1133 881.1 1133.6 878.9 1136.1C876.8 1138.6 876.1 1143 875.7 1145.7C875.4 1148.4 876.6 1151.1 876.8 1152.1C872.7 1154.1 859.8 1159.8 852.1 1163.9C844.5 1168 834.7 1174.3 830.7 1176.8C826.7 1179.3 828.6 1178.6 828.1 1178.9"/>
<path class="ln"  d="M970.7 1090.7C974.3 1087.5 984.6 1075.9 992.1 1071.4C999.6 1067 1011.8 1065.2 1015.7 1063.9"/>
<path class="ln" style="stroke-width:2.4" d="M1015.7 1063.9C1013.2 1064.8 1004.6 1066.6 1000.7 1069.3C996.8 1072 993.7 1077.1 992.1 1080C990.5 1082.9 991.8 1084.6 991.1 1086.4C990.4 1088.2 988.4 1090 987.9 1090.7L994.3 1106.8L1009.3 1099.3L1047.9 1076.8"/>
<path class="ln" style="stroke-width:2" d="M1009.3 1099.3L1024.3 1120.7L1030.7 1152.9"/>
<path class="ln" style="stroke-width:2.2" d="M1024.3 1157.1L1092.9 1125L1118.6 1130.4"/>
<path class="th"  d="M1118.6 1130.4L1137.9 1117.5"/>
<path class="ln"  d="M1024.3 1157.1L1032.9 1173.2C1034.1 1173.1 1035 1174.5 1040.4 1172.6C1045.7 1170.6 1060.9 1163.3 1065 1161.4L1066.1 1155L1090.7 1142.1L1095 1144.3L1118.6 1131.4"/>
<path class="ln"  d="M1032.9 1173.2C1030.9 1174.5 1024.6 1179.5 1021.1 1180.7C1017.5 1181.9 1013 1180.4 1011.4 1180.3L960 1200"/>
<path class="ln"  d="M870 1242.1C872.1 1241.2 875 1240.4 882.9 1236.8C890.7 1233.2 911.4 1223.4 917.1 1220.7L932.1 1223.9L960 1210C960.2 1209.3 961.4 1207 961.1 1205.7C960.7 1204.5 958.4 1203 957.9 1202.5C966.8 1198.7 1001.1 1183.6 1011.4 1180C1021.8 1176.4 1018.6 1180.9 1020 1181.1"/>
<path fill="#fff" stroke="none" d="M1104.6 987.4L1117.5 993.2C1119.5 995.9 1125.5 1004.1 1129.3 1009.3C1133 1014.5 1135.9 1018.7 1140 1024.3C1144.1 1029.8 1151.6 1039.5 1153.9 1042.5C1154.5 1045.2 1155.9 1053.4 1157.1 1058.6C1158.4 1063.7 1161.2 1068.6 1161.4 1073.6C1161.6 1078.6 1159.6 1083.6 1158.2 1088.6C1156.8 1093.6 1154.5 1099.1 1152.9 1103.6C1151.2 1108 1150.4 1112.9 1148.6 1115.4C1146.8 1117.9 1144.1 1118.9 1142.1 1118.6C1140.2 1118.2 1137.7 1114.1 1136.8 1113.2C1135.7 1112.1 1132.1 1109.5 1130.4 1106.8C1128.6 1104.1 1126.6 1100.5 1126.1 1097.1C1125.5 1093.7 1127.9 1090 1127.1 1086.4C1126.4 1082.9 1123 1079.3 1121.8 1075.7C1120.5 1072.1 1120 1066.8 1119.6 1065C1118 1063.6 1112 1059.3 1110 1056.4C1108 1053.6 1108.2 1049.3 1107.9 1047.9L1086.4 1036.1C1085.2 1037 1080.7 1039.1 1078.9 1041.4C1077.1 1043.7 1076.2 1048.6 1075.7 1050C1076.4 1050.5 1077.1 1051.8 1080 1053.2C1082.9 1054.6 1088.6 1056.2 1092.9 1058.6C1097.1 1060.9 1102.1 1063.9 1105.7 1067.1C1109.3 1070.4 1112.5 1074.6 1114.3 1077.9C1116.1 1081.1 1116.8 1083.7 1116.4 1086.4C1116.1 1089.1 1115 1092.7 1112.1 1093.9C1109.3 1095.2 1104.3 1094.6 1099.3 1093.9C1094.3 1093.2 1087.5 1091.6 1082.1 1089.6C1076.8 1087.7 1072.1 1084.8 1067.1 1082.1C1062.1 1079.5 1058.2 1075.7 1052.1 1073.6C1046.1 1071.4 1036.4 1071.4 1030.7 1069.3C1025 1067.1 1021.4 1063.9 1017.9 1060.7C1014.3 1057.6 1010.7 1052.1 1009.3 1050.4C1005 1050 991.8 1047.4 983.6 1047.9C975.4 1048.3 963.9 1052.3 960 1053.2L938.6 1050L938.6 990C942.1 989.8 951.8 988.6 960 988.9C968.2 989.3 978.6 991.4 987.9 992.1C997.1 992.9 1006.1 993.6 1015.7 993.6C1025.4 993.7 1035.7 993 1045.7 992.6C1055.7 992.1 1067.9 991.7 1075.7 991.1C1083.6 990.5 1088 989.5 1092.9 988.9C1097.7 988.3 1102.7 987.7 1104.6 987.4Z"/>
<path class="ln"  d="M960 988.9C964.6 989.5 978.6 991.4 987.9 992.1C997.1 992.9 1006.1 993.6 1015.7 993.6C1025.4 993.7 1035.7 993 1045.7 992.6C1055.7 992.1 1067.9 991.7 1075.7 991.1C1083.6 990.5 1088 989.5 1092.9 988.9C1097.7 988.3 1102.7 987.7 1104.6 987.4L1117.5 993.2C1119.5 995.9 1125.5 1004.1 1129.3 1009.3C1133 1014.5 1135.9 1018.7 1140 1024.3C1144.1 1029.8 1151.6 1039.5 1153.9 1042.5C1154.5 1045.2 1155.9 1053.4 1157.1 1058.6C1158.4 1063.7 1161.2 1068.6 1161.4 1073.6C1161.6 1078.6 1159.6 1083.6 1158.2 1088.6C1156.8 1093.6 1154.5 1099.1 1152.9 1103.6C1151.2 1108 1150.4 1112.9 1148.6 1115.4C1146.8 1117.9 1144.1 1118.9 1142.1 1118.6C1140.2 1118.2 1137.7 1114.1 1136.8 1113.2"/>
<path class="ln"  d="M1136.8 1113.2C1135.7 1112.1 1132.1 1109.5 1130.4 1106.8C1128.6 1104.1 1126.6 1100.5 1126.1 1097.1C1125.5 1093.7 1127.9 1090 1127.1 1086.4C1126.4 1082.9 1123 1079.3 1121.8 1075.7C1120.5 1072.1 1120 1066.8 1119.6 1065C1118 1063.6 1112 1059.3 1110 1056.4C1108 1053.6 1108.2 1049.3 1107.9 1047.9L1086.4 1036.1C1085.2 1037 1080.7 1039.1 1078.9 1041.4C1077.1 1043.7 1076.2 1048.6 1075.7 1050"/>
<path class="ln"  d="M1062.9 1043.6C1064.3 1044.8 1068.6 1049.5 1071.4 1051.1C1074.3 1052.7 1076.4 1052 1080 1053.2C1083.6 1054.5 1088.6 1056.2 1092.9 1058.6C1097.1 1060.9 1102.1 1063.9 1105.7 1067.1C1109.3 1070.4 1112.5 1074.6 1114.3 1077.9C1116.1 1081.1 1116.8 1083.7 1116.4 1086.4C1116.1 1089.1 1115 1092.7 1112.1 1093.9C1109.3 1095.2 1104.3 1094.6 1099.3 1093.9C1094.3 1093.2 1087.5 1091.6 1082.1 1089.6C1076.8 1087.7 1072.1 1084.8 1067.1 1082.1C1062.1 1079.5 1058.2 1075.7 1052.1 1073.6C1046.1 1071.4 1036.4 1071.4 1030.7 1069.3C1025 1067.1 1021.4 1063.9 1017.9 1060.7C1014.3 1057.6 1010.7 1052.1 1009.3 1050.4C1005 1050 991.8 1047.4 983.6 1047.9C975.4 1048.3 963.9 1052.3 960 1053.2"/>
<path class="th"  d="M984.6 994.3C983.9 997.1 981.1 1005.7 980.4 1011.4C979.6 1017.1 979.8 1022.7 980.4 1028.6C980.9 1034.5 983 1043.7 983.6 1046.8"/>
<path class="th"  d="M1118.6 1015.7C1120.7 1018.9 1127.3 1028.6 1131.4 1035C1135.5 1041.4 1140.7 1048.2 1143.2 1054.3C1145.7 1060.4 1145.7 1065.7 1146.4 1071.4C1147.1 1077.1 1148.2 1082.9 1147.5 1088.6C1146.8 1094.3 1143.7 1101.4 1142.1 1105.7C1140.5 1110 1138.6 1112.9 1137.9 1114.3"/>
<path class="ln"  d="M969.6 1055.4C969.5 1058 968.4 1065.5 968.6 1071.4C968.7 1077.3 970.4 1087.5 970.7 1090.7"/>
<path fill="#fff" stroke="none" d="M827.1 1240C829.6 1239.1 837.5 1235.9 842.1 1234.6C846.8 1233.4 852.9 1232.9 855 1232.5L870 1237.9C869.6 1239.6 869.6 1244.8 867.9 1248.6C866.1 1252.3 864.3 1255.7 859.3 1260.4C854.3 1265 847.5 1269.3 837.9 1276.4C828.2 1283.6 809.6 1295.9 801.4 1303.2C793.2 1310.5 790.7 1317.5 788.6 1320.4C787.9 1324.5 785.8 1334.4 784.3 1345C782.8 1355.6 780.4 1377.5 779.6 1384L741.4 1384L750 1275.4C752.1 1270.9 758.2 1257.3 762.9 1248.6C767.5 1239.8 772.9 1230.2 777.9 1222.9C782.9 1215.5 789.8 1209.6 792.9 1204.6C795.9 1199.6 794.6 1197.5 796.1 1192.9C797.5 1188.2 799.6 1180.7 801.4 1176.8C803.2 1172.9 804.5 1171 806.8 1169.3C809.1 1167.6 812.7 1166.7 815.4 1166.7C818 1166.7 820.9 1167.8 822.9 1169.3C824.8 1170.8 826.2 1173.2 827.1 1175.7C828 1178.2 828.4 1180 828.2 1184.3C828 1188.6 827.7 1197.1 826.1 1201.4C824.5 1205.7 820.2 1206.8 818.6 1210C817 1213.2 816.2 1216.8 816.4 1220.7C816.6 1224.6 817.9 1230.4 819.6 1233.6C821.4 1236.8 825.9 1238.9 827.1 1240Z"/>
<path class="ln"  d="M737.1 1233.6L792.9 1204.6"/>
<path class="ln" style="stroke-linecap:butt" d="M750 1275.4C752.1 1270.9 758.2 1257.3 762.9 1248.6C767.5 1239.8 772.9 1230.2 777.9 1222.9C782.9 1215.5 789.8 1209.6 792.9 1204.6C795.9 1199.6 794.6 1197.5 796.1 1192.9C797.5 1188.2 799.6 1180.7 801.4 1176.8C803.2 1172.9 804.5 1171 806.8 1169.3C809.1 1167.6 812.7 1166.7 815.4 1166.7C818 1166.7 820.9 1167.8 822.9 1169.3C824.8 1170.8 826.2 1173.2 827.1 1175.7C828 1178.2 828.4 1180 828.2 1184.3C828 1188.6 827.7 1197.1 826.1 1201.4C824.5 1205.7 820.2 1206.8 818.6 1210C817 1213.2 816.2 1216.8 816.4 1220.7C816.6 1224.6 817.9 1230.4 819.6 1233.6C821.4 1236.8 825.9 1238.9 827.1 1240C829.6 1239.1 837.5 1235.9 842.1 1234.6C846.8 1233.4 852.9 1232.9 855 1232.5L870 1237.9C869.6 1239.6 869.6 1244.8 867.9 1248.6C866.1 1252.3 864.3 1255.7 859.3 1260.4C854.3 1265 847.5 1269.3 837.9 1276.4C828.2 1283.6 809.6 1295.9 801.4 1303.2C793.2 1310.5 790.7 1317.5 788.6 1320.4C787.9 1324.5 785.8 1334.4 784.3 1345C782.8 1355.6 780.4 1377.5 779.6 1384"/>
<path class="ln"  d="M828.2 1178.9C830.5 1177.3 833.9 1173.7 842.1 1169.3C850.4 1164.8 871.6 1155 877.5 1152.1L875.4 1144.6C876.1 1143.2 875.9 1139.1 879.6 1136.1C883.4 1133 893.4 1129.1 897.9 1126.4C902.3 1123.7 905 1121.1 906.4 1120"/>
<path class="th"  d="M745.7 1283.9C746.4 1286.6 747.9 1295.2 750 1300C752.1 1304.8 755 1309.5 758.6 1312.9C762.1 1316.2 767.5 1318.6 771.4 1320.4C775.4 1322.1 780.4 1322.7 782.1 1323.1"/>
<path class="ln" style="stroke-width:2" d="M827.1 1201.4L835.7 1193.9C839.3 1192.3 852.1 1185.9 857.1 1184.3C862.1 1182.7 863.2 1183.2 865.7 1184.3C868.2 1185.4 871.1 1189.6 872.1 1190.7C873.2 1193.2 876.4 1202 878.6 1205.7C880.7 1209.5 884.5 1210.4 885 1213.2C885.5 1216.1 882.3 1221.2 881.8 1222.9L859.3 1233.6"/>
</svg></body></html>
